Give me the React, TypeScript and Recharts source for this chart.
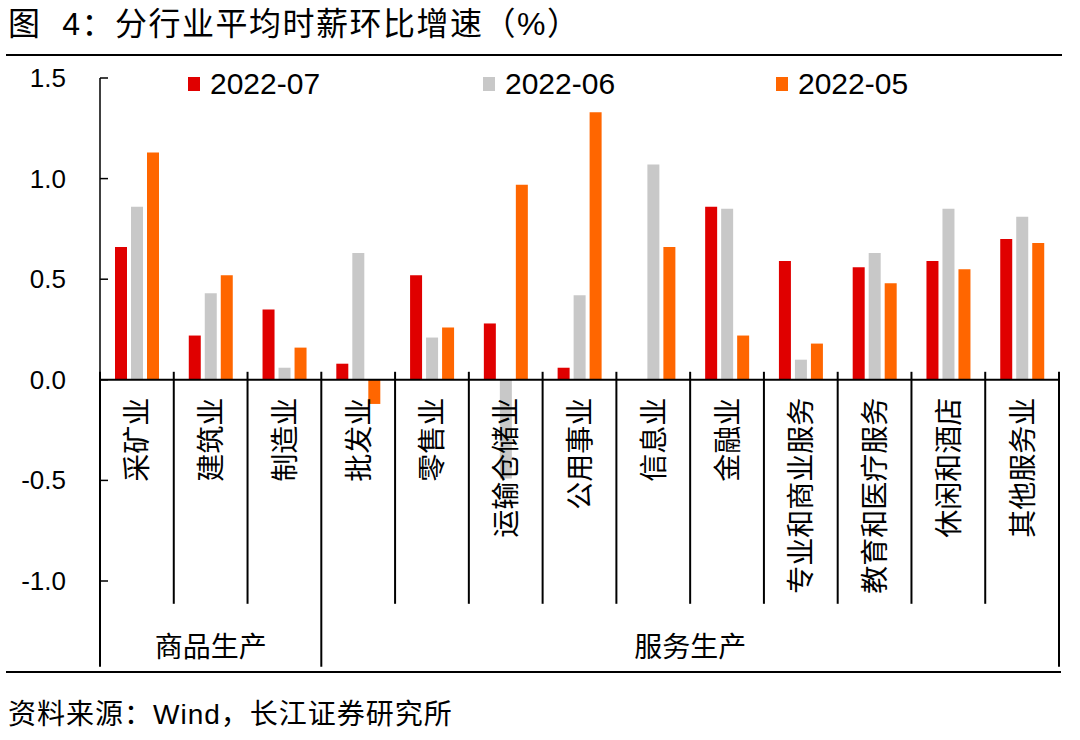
import React from 'react';
import { BarChart, Bar, XAxis, YAxis, ReferenceLine } from 'recharts';

// 分行业平均时薪环比增速（%）
const categories = [
  '采矿业',
  '建筑业',
  '制造业',
  '批发业',
  '零售业',
  '运输仓储业',
  '公用事业',
  '信息业',
  '金融业',
  '专业和商业服务',
  '教育和医疗服务',
  '休闲和酒店',
  '其他服务业',
];
const groupNames = ['商品生产', '服务生产'];
const groupSizes = [3, 10];

const seriesNames = ['2022-07', '2022-06', '2022-05'];
const jul = [0.66, 0.22, 0.35, 0.08, 0.52, 0.28, 0.06, 0, 0.86, 0.59, 0.56, 0.59, 0.7];
const jun = [0.86, 0.43, 0.06, 0.63, 0.21, -0.49, 0.42, 1.07, 0.85, 0.1, 0.63, 0.85, 0.81];
const may = [1.13, 0.52, 0.16, -0.12, 0.26, 0.97, 1.33, 0.66, 0.22, 0.18, 0.48, 0.55, 0.68];
const yTicks = [-1.0, -0.5, 0.0, 0.5, 1.0, 1.5];

const COLORS = ['#e00000', '#c8c8c8', '#ff6600'];
const FONT = '"Liberation Sans", Arial, "Noto Sans CJK SC", sans-serif';

// layout
const W = 1080;
const H = 740;
const PLOT_LEFT = 100;
const PLOT_RIGHT = 1059;
const PLOT_TOP = 78;
const PLOT_BOTTOM = 581;
const Y_AXIS_W = 60;
const X_AXIS_H = 30;
const Y_MIN = yTicks[0];
const Y_MAX = yTicks[yTicks.length - 1];

const data = categories.map((name, i) => ({
  name,
  jul: jul[i],
  jun: jun[i],
  may: may[i],
}));

const yPx = (v: number) =>
  PLOT_TOP + ((Y_MAX - v) / (Y_MAX - Y_MIN)) * (PLOT_BOTTOM - PLOT_TOP);

// group boundaries (index of category after the edge)
const groupEdges: number[] = [0];
groupSizes.forEach((n) => groupEdges.push(groupEdges[groupEdges.length - 1] + n));

function ValueTick(props: any) {
  const { x, y, payload } = props;
  return (
    <g>
      <line x1={x + 34} x2={x + 42} y1={y} y2={y} stroke="#000" strokeWidth={1.5} />
      <text
        x={x}
        y={y}
        textAnchor="end"
        dominantBaseline="central"
        fontSize={26}
        fontFamily={FONT}
        fill="#000"
      >
        {Number(payload.value).toFixed(1)}
      </text>
    </g>
  );
}

function CategoryTick(props: any) {
  const { x, index, payload } = props;
  const cw = (PLOT_RIGHT - PLOT_LEFT) / categories.length;
  const zeroY = yPx(0);
  const left = x - cw / 2;
  const right = x + cw / 2;
  const rightIsGroup = groupEdges.includes(index + 1);
  const gi = groupEdges.indexOf(index);
  return (
    <g>
      {index === 0 && (
        <line x1={left} x2={left} y1={zeroY - 8} y2={zeroY + 287} stroke="#000" strokeWidth={2} />
      )}
      <line
        x1={right}
        x2={right}
        y1={zeroY - 8}
        y2={rightIsGroup ? zeroY + 287 : zeroY + 224}
        stroke="#000"
        strokeWidth={2}
      />
      <text
        transform={`translate(${x + 1},${zeroY + 18}) rotate(-90)`}
        textAnchor="end"
        dominantBaseline="central"
        fontSize={28}
        fontFamily={FONT}
        fill="#000"
      >
        {payload.value}
      </text>
      {gi >= 0 && gi < groupNames.length && (
        <text
          x={left + (groupSizes[gi] * cw) / 2}
          y={zeroY + 268}
          textAnchor="middle"
          dominantBaseline="central"
          fontSize={28}
          fontFamily={FONT}
          fill="#000"
        >
          {groupNames[gi]}
        </text>
      )}
    </g>
  );
}

export default function App() {
  const legendLeft = [188, 483, 776];
  return (
    <div
      style={{
        position: 'fixed',
        left: 0,
        top: 0,
        width: W,
        height: H,
        background: '#fff',
        fontFamily: FONT,
        color: '#000',
        overflow: 'hidden',
      }}
    >
      <div style={{ position: 'absolute', left: 8, top: 4, fontSize: 32, lineHeight: '40px', whiteSpace: 'nowrap', letterSpacing: 1.5 }}>
        图&nbsp;&nbsp;4：分行业平均时薪环比增速（%）
      </div>
      <div style={{ position: 'absolute', left: 6, top: 54, width: 1056, borderTop: '2px solid #000' }} />

      <BarChart
        width={W}
        height={H}
        data={data}
        margin={{
          top: PLOT_TOP,
          right: W - PLOT_RIGHT,
          left: PLOT_LEFT - Y_AXIS_W,
          bottom: H - PLOT_BOTTOM - X_AXIS_H,
        }}
        barSize={12}
        barGap={4}
      >
        <YAxis
          type="number"
          domain={[Y_MIN, Y_MAX]}
          ticks={yTicks}
          interval={0}
          width={Y_AXIS_W}
          axisLine={{ stroke: '#000', strokeWidth: 1.5 }}
          tickLine={false}
          tickSize={0}
          tickMargin={34}
          tick={(p: any) => <ValueTick {...p} />}
        />
        <XAxis
          dataKey="name"
          height={X_AXIS_H}
          axisLine={false}
          tickLine={false}
          tickSize={0}
          tickMargin={0}
          interval={0}
          tick={(p: any) => <CategoryTick {...p} />}
        />
        <Bar dataKey="jul" name={seriesNames[0]} fill={COLORS[0]} isAnimationActive={false} />
        <Bar dataKey="jun" name={seriesNames[1]} fill={COLORS[1]} isAnimationActive={false} />
        <Bar dataKey="may" name={seriesNames[2]} fill={COLORS[2]} isAnimationActive={false} />
        <ReferenceLine y={0} stroke="#000" strokeWidth={2} />
      </BarChart>

      {seriesNames.map((s, i) => (
        <div
          key={s}
          style={{
            position: 'absolute',
            left: legendLeft[i],
            top: 66,
            height: 36,
            display: 'flex',
            alignItems: 'center',
            fontSize: 30,
            whiteSpace: 'nowrap',
          }}
        >
          <span style={{ display: 'inline-block', width: 12, height: 14, background: COLORS[i], marginRight: 10 }} />
          {s}
        </div>
      ))}

      <div style={{ position: 'absolute', left: 6, top: 671, width: 1055, borderTop: '2px solid #000' }} />
      <div style={{ position: 'absolute', left: 8, top: 696, fontSize: 28, lineHeight: '38px', whiteSpace: 'nowrap', letterSpacing: 1 }}>
        资料来源：Wind，长江证券研究所
      </div>
    </div>
  );
}
